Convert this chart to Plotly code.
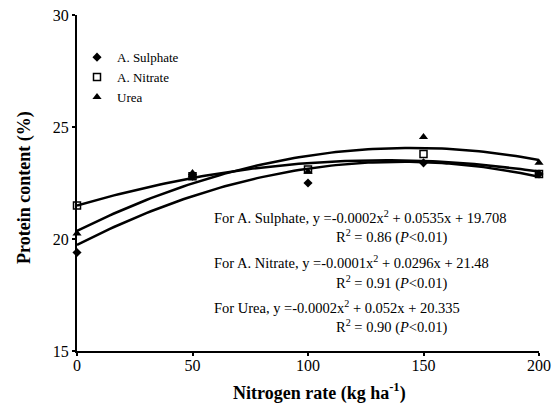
import numpy as np
import plotly.graph_objects as go

nitrogen_rate = [0, 50, 100, 150, 200]
sulphate = [19.4, 22.8, 22.5, 23.4, 22.9]
nitrate = [21.5, 22.8, 23.1, 23.8, 22.9]
urea = [20.25, 22.95, 23.0, 24.55, 23.4]

series = [
    ("A. Sulphate", sulphate, dict(symbol="diamond", color="black", size=7)),
    ("A. Nitrate", nitrate, dict(symbol="square-open", color="black", size=7, line=dict(width=1.5))),
    ("Urea", urea, dict(symbol="triangle-up", color="black", size=8)),
]

equations = [
    ("For A. Sulphate, y =-0.0002x<sup>2</sup> + 0.0535x + 19.708", "R<sup>2</sup> = 0.86 (<i>P</i><0.01)"),
    ("For A. Nitrate, y =-0.0001x<sup>2</sup> + 0.0296x + 21.48", "R<sup>2</sup> = 0.91 (<i>P</i><0.01)"),
    ("For Urea, y =-0.0002x<sup>2</sup> + 0.052x + 20.335", "R<sup>2</sup> = 0.90 (<i>P</i><0.01)"),
]

FONT = "Liberation Serif, Times New Roman, serif"

fig = go.Figure()
xs = np.linspace(0, 200, 101)
for name, ys, mk in series:
    c = np.polyfit(nitrogen_rate, ys, 2)
    fig.add_trace(go.Scatter(x=xs, y=np.polyval(c, xs), mode="lines",
                             line=dict(color="black", width=2.5), showlegend=False,
                             hoverinfo="skip"))
for name, ys, mk in series:
    fig.add_trace(go.Scatter(x=nitrogen_rate, y=ys, mode="markers", name=name,
                             marker=mk, cliponaxis=False))

eq_y = [0.40, 0.265, 0.131]
r2_y = [0.342, 0.205, 0.074]
ann = []
for i, (eq, r2) in enumerate(equations):
    ann.append(dict(x=0.293, y=eq_y[i], xref="paper", yref="paper",
                    text=eq, showarrow=False, xanchor="left", yanchor="middle",
                    font=dict(family=FONT, size=14.5, color="black")))
    ann.append(dict(x=0.68, y=r2_y[i], xref="paper", yref="paper",
                    text=r2, showarrow=False, xanchor="center", yanchor="middle",
                    font=dict(family=FONT, size=14.5, color="black")))
ann.append(dict(x=0.524, y=-0.122, xref="paper", yref="paper",
                text="<b>Nitrogen rate (kg ha<sup>-1</sup>)</b>", showarrow=False,
                xanchor="center", yanchor="middle",
                font=dict(family=FONT, size=18, color="black")))
ann.append(dict(x=-0.115, y=0.488, xref="paper", yref="paper",
                text="<b>Protein content (%)</b>", showarrow=False, textangle=-90,
                xanchor="center", yanchor="middle",
                font=dict(family=FONT, size=18, color="black")))

fig.update_layout(
    width=558, height=407,
    margin=dict(l=77, r=19, t=15, b=56),
    paper_bgcolor="white", plot_bgcolor="white",
    font=dict(family=FONT, size=14, color="black"),
    showlegend=True,
    legend=dict(x=0.0, y=0.919, xanchor="left", yanchor="top",
                bgcolor="rgba(0,0,0,0)", font=dict(family=FONT, size=13),
                itemwidth=30, tracegroupgap=0),
    annotations=ann,
    xaxis=dict(range=[0, 200], tickvals=[0, 50, 100, 150, 200], showgrid=False,
               zeroline=False, showline=True, linecolor="black", linewidth=2,
               ticks="outside", ticklen=3, tickwidth=1.5, tickcolor="black",
               automargin=False, ticklabelstandoff=-4,
               tickfont=dict(family=FONT, size=16)),
    yaxis=dict(range=[15, 30], tickvals=[15, 20, 25, 30], showgrid=False,
               zeroline=False, showline=True, linecolor="black", linewidth=2,
               ticks="outside", ticklen=3, tickwidth=1.5, tickcolor="black",
               automargin=False,
               tickfont=dict(family=FONT, size=16)),
)

fig.write_html("out.html", config={"displayModeBar": False},
               post_script="document.body.style.margin='0';document.body.style.overflow='hidden';")
